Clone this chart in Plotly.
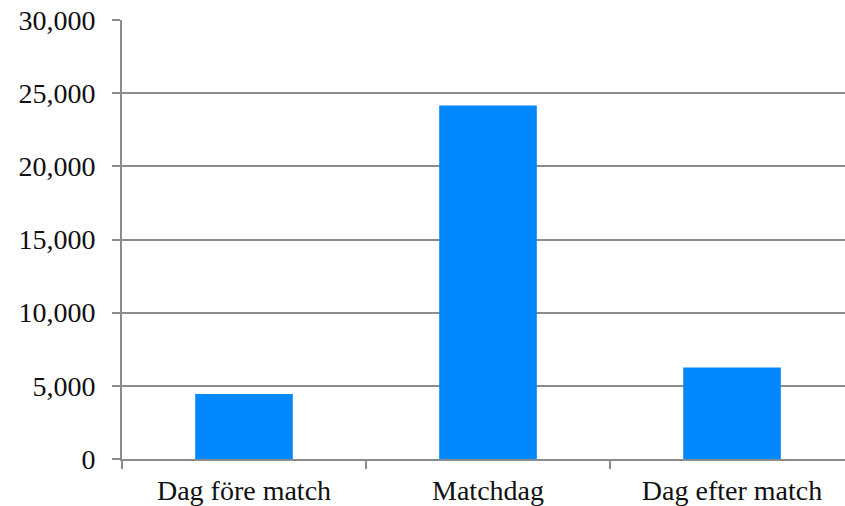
import plotly.graph_objects as go

# Besökare per dag kring matchen
categories = ["Dag före match", "Matchdag", "Dag efter match"]
visitors = [4450, 24150, 6250]
y_ticks = [0, 5000, 10000, 15000, 20000, 25000, 30000]

LINE = "#8c8c8c"
BAR = "#0089ff"

fig = go.Figure(
    go.Bar(
        x=categories,
        y=visitors,
        width=0.4,
        marker=dict(color=BAR, line=dict(width=0)),
    )
)

fig.update_layout(
    width=845,
    height=506,
    margin=dict(l=122, r=0, t=20, b=47),
    paper_bgcolor="white",
    plot_bgcolor="white",
    showlegend=False,
    font=dict(family="Liberation Serif, Times New Roman, serif", color="#111111"),
)

fig.update_xaxes(
    type="category",
    range=[-0.5, 2.463],
    tickson="boundaries",
    ticks="outside",
    ticklen=8,
    tickwidth=1.5,
    tickcolor=LINE,
    showline=True,
    linecolor=LINE,
    linewidth=2,
    showgrid=False,
    tickfont=dict(size=28),
    ticklabelstandoff=5,
)

fig.update_yaxes(
    range=[0, 30000],
    tickvals=y_ticks,
    tickformat=",",
    ticks="outside",
    ticklen=8,
    tickwidth=2,
    tickcolor=LINE,
    showline=True,
    linecolor=LINE,
    linewidth=2,
    showgrid=True,
    gridcolor=LINE,
    gridwidth=2,
    zeroline=False,
    tickfont=dict(size=28),
    ticklabelstandoff=11,
)

fig.write_html("out.html")
